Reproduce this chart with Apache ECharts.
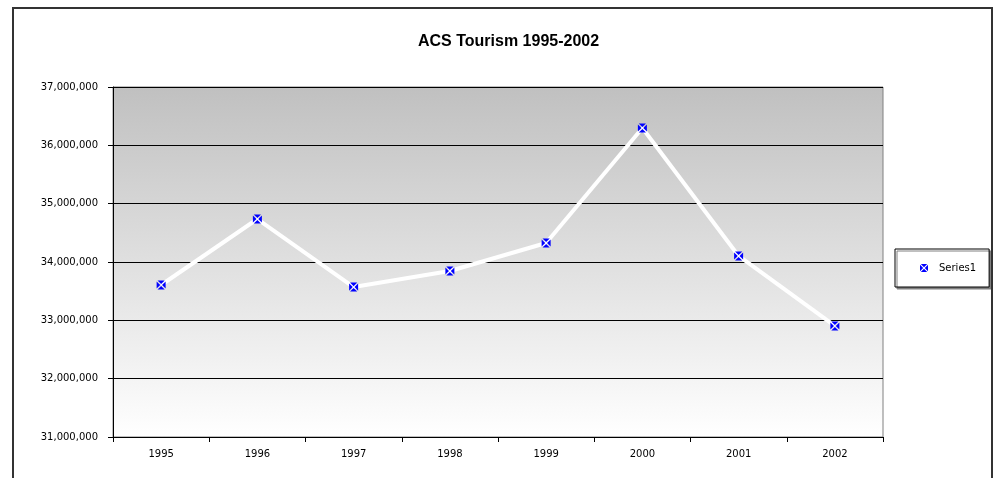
<!DOCTYPE html>
<html>
<head>
<meta charset="utf-8">
<script src="https://cdn.jsdelivr.net/npm/echarts@6/dist/echarts.min.js"></script>
<style>
  html, body { margin: 0; padding: 0; background: #fff; }
  #chart { width: 996px; height: 478px; }
</style>
</head>
<body>
<div id="chart"></div>
<script>
const years = ["1995", "1996", "1997", "1998", "1999", "2000", "2001", "2002"];
const visitors = [33606000, 34737000, 33570000, 33846000, 34326000, 36297000, 34103000, 32903000];
const yMin = 31000000;
const yMax = 37000000;
const yStep = 1000000;

// blue square with a white X cut through it
const markerPath = "path://M1,0L9,0L5,4ZM10,1L10,9L6,5ZM1,10L9,10L5,6ZM0,1L0,9L4,5Z";

const chart = echarts.init(document.getElementById("chart"), null, { renderer: "canvas" });

chart.setOption({
  animation: false,
  backgroundColor: "#fff",
  title: {
    text: "ACS Tourism 1995-2002",
    left: 413,
    top: 29,
    textStyle: { fontFamily: "Liberation Sans", fontWeight: "bold", fontSize: 16, color: "#000" },
  },
  graphic: [
    {
      type: "rect",
      shape: { x: 13, y: 8, width: 979, height: 520 },
      style: { fill: "none", stroke: "#333", lineWidth: 2 },
      z: 100,
    },
  ],
  legend: {
    left: 895,
    top: 249,
    orient: "vertical",
    padding: [14, 13, 14, 25],
    itemWidth: 8,
    itemHeight: 8,
    itemGap: 0,
    borderColor: "#000",
    borderWidth: 1,
    backgroundColor: "#fff",
    shadowColor: "#808080",
    shadowOffsetX: 2,
    shadowOffsetY: 2,
    shadowBlur: 0,
    textStyle: { fontFamily: "DejaVu Sans", fontSize: 10, color: "#000", padding: [0, 0, 0, 6] },
    data: [{ name: "Series1", icon: markerPath }],
  },
  grid: {
    left: 113,
    top: 87,
    width: 770,
    height: 350,
    show: true,
    borderColor: "#808080",
    borderWidth: 1,
    backgroundColor: new echarts.graphic.LinearGradient(0, 0, 0, 1, [
      { offset: 0, color: "#c0c0c0" },
      { offset: 1, color: "#ffffff" },
    ]),
  },
  xAxis: {
    type: "category",
    data: years,
    boundaryGap: true,
    axisLine: { lineStyle: { color: "#000", width: 1 } },
    axisTick: { show: true, length: 5, lineStyle: { color: "#000" } },
    axisLabel: { color: "#000", fontFamily: "DejaVu Sans", fontSize: 10, margin: 12 },
    splitLine: { show: false },
  },
  yAxis: {
    type: "value",
    min: yMin,
    max: yMax,
    interval: yStep,
    axisLine: { show: true, lineStyle: { color: "#000", width: 1 } },
    axisTick: { show: true, length: 5, lineStyle: { color: "#000" } },
    axisLabel: {
      color: "#000",
      fontFamily: "DejaVu Sans",
      fontSize: 10,
      margin: 15,
      formatter: (v) => v.toLocaleString("en-US"),
    },
    splitLine: { show: true, lineStyle: { color: "#000", width: 1 } },
  },
  series: [
    {
      name: "Series1",
      type: "line",
      data: visitors,
      symbol: markerPath,
      symbolSize: 9,
      showAllSymbol: true,
      itemStyle: { color: "#0000ff", borderWidth: 0 },
      lineStyle: { color: "#ffffff", width: 4 },
      z: 5,
    },
  ],
});
</script>
</body>
</html>
